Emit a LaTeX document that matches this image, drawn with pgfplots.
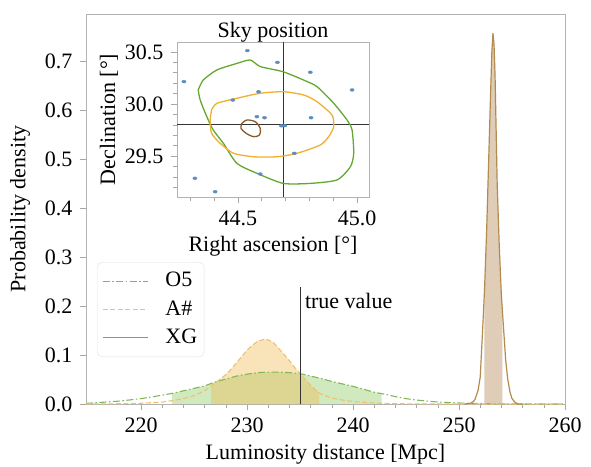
\documentclass[border=0pt]{standalone}
\usepackage{fontspec}
\setmainfont{Liberation Serif}
\usepackage{pgfplots}
\pgfplotsset{compat=1.18}
\usetikzlibrary{calc}
\definecolor{ofiveline}{HTML}{80B858}
\definecolor{ofivefill}{HTML}{8CC860}
\definecolor{ashline}{HTML}{F0C070}
\definecolor{ashfill}{HTML}{F0B850}
\definecolor{xgline}{HTML}{B38B4F}
\definecolor{xgfill}{HTML}{B89060}
\definecolor{cgreen}{HTML}{64A832}
\definecolor{corange}{HTML}{F0B030}
\definecolor{cbrown}{HTML}{8B5A2B}
\definecolor{dotblue}{HTML}{5B8DC0}
\begin{document}
\fontsize{22}{26}\selectfont
\begin{tikzpicture}
\pgfplotsset{every axis/.append style={font=\fontsize{22}{26}\selectfont},
  /pgf/number format/assume math mode=true}
\begin{axis}[name=main, scale only axis, width=479pt, height=390pt,
  xmin=214.8, xmax=260, ymin=0, ymax=0.796,
  xtick={220,230,240,250,260}, minor x tick num=4,
  ytick={0,0.1,0.2,0.3,0.4,0.5,0.6,0.7},
  yticklabel style={/pgf/number format/.cd, fixed, fixed zerofill, precision=1},
  tick pos=left, tick align=outside,
  major tick length=6pt, minor tick length=4pt,
  tick style={gray!70, line width=0.6pt},
  axis line style={gray!60, line width=0.6pt},
  xlabel={Luminosity distance [Mpc]}, ylabel={Probability density},
  xlabel style={yshift=3pt},
  legend style={at={(0.023,0.364)}, anchor=north west, draw=gray!25,
    rounded corners=5pt, fill=white, fill opacity=0.8, text opacity=1,
    inner xsep=5pt, inner ysep=8pt, row sep=6.5pt,
    font=\fontsize{22}{26}\selectfont, cells={anchor=west},
    /tikz/every odd column/.append style={column sep=15pt}},
  legend image code/.code={\draw[#1] (0pt,0pt) -- (45pt,0pt);},
]
% fills
\addplot[draw=none, fill=ofivefill, fill opacity=0.4, forget plot] coordinates {
(222.9,0.0216) (223,0.022) (224,0.027) (225,0.032) (226,0.037) (227,0.045) (228,0.051) (229,0.057) (230,0.061) (231,0.064) (232,0.065) (233,0.065) (234,0.064) (235,0.062) (236,0.057) (237,0.052) (238,0.046) (239,0.041) (240,0.036) (241,0.030) (242,0.024) (242.7,0.021)
} \closedcycle;
\addplot[draw=none, fill=ashfill, fill opacity=0.4, forget plot] coordinates {
(226.6,0.035) (227,0.043) (228,0.060) (228.7,0.076) (229,0.084) (230,0.110) (230.5,0.120) (231,0.128) (231.6,0.132) (232,0.131) (232.5,0.125) (233,0.113) (233.5,0.101) (234,0.088) (234.4,0.077) (235,0.062) (235.5,0.050) (236,0.038) (236.5,0.028) (236.8,0.023)
} \closedcycle;
\addplot[draw=none, fill=xgfill, fill opacity=0.45, forget plot] coordinates {
(252.4,0.23) (252.6,0.35) (252.8,0.50) (253.0,0.65) (253.1,0.72) (253.2,0.757) (253.3,0.735) (253.4,0.67) (253.6,0.45) (253.8,0.32) (254.0,0.22) (254.1,0.19)
} \closedcycle;
% lines
\addplot[ofiveline, line width=1.1pt, dash pattern=on 7pt off 2.5pt on 1.5pt off 2.5pt] coordinates {
(214.8,0.0012) (216,0.003) (218,0.006) (220,0.011) (222,0.018) (223,0.022) (224,0.027) (225,0.032) (226,0.037) (227,0.045) (228,0.051) (229,0.057) (230,0.061) (231,0.064) (232,0.065) (233,0.065) (234,0.064) (235,0.062) (236,0.057) (237,0.052) (238,0.046) (239,0.041) (240,0.036) (241,0.030) (242,0.024) (243,0.020) (244,0.015) (245,0.011) (246,0.008) (247,0.006) (248,0.004) (249,0.003) (250,0.002) (252,0.001) (254,0.0004) (256,0.0001) (260,0)
};
\addlegendentry{O5}
\addplot[ashline, line width=1.1pt, dash pattern=on 5pt off 2.5pt] coordinates {
(214.8,0) (218,0.0005) (220,0.0015) (222,0.004) (223,0.007) (224,0.011) (225,0.017) (226,0.027) (227,0.043) (228,0.060) (228.7,0.076) (229,0.084) (230,0.110) (230.5,0.120) (231,0.128) (231.6,0.132) (232,0.131) (232.5,0.125) (233,0.113) (233.5,0.101) (234,0.088) (234.4,0.077) (235,0.062) (235.5,0.050) (236,0.038) (236.5,0.028) (237,0.020) (238,0.012) (239,0.008) (240,0.005) (242,0.002) (244,0.0006) (246,0.0002) (250,0) (260,0)
};
\addlegendentry{A\#}
\addplot[xgline, line width=1.2pt] coordinates {
(250.5,0) (251.0,0.001) (251.3,0.004) (251.5,0.009) (251.8,0.028) (252.0,0.055) (252.2,0.14) (252.4,0.23) (252.6,0.35) (252.8,0.50) (253.0,0.65) (253.1,0.72) (253.2,0.757) (253.3,0.735) (253.4,0.67) (253.6,0.45) (253.8,0.32) (254.0,0.22) (254.2,0.155) (254.4,0.09) (254.6,0.05) (254.8,0.025) (255.0,0.011) (255.3,0.003) (255.6,0) (256,0)
};
\addlegendentry{XG}
\addplot[black!80, line width=0.8pt, forget plot] coordinates {(235,0) (235,0.239)};
\node[anchor=north west, inner sep=0pt] at (axis cs:235.45,0.226) {true value};
\end{axis}
\begin{axis}[at={($(main.south west)+(91pt,207pt)$)}, anchor=south west,
  scale only axis, width=192pt, height=155pt,
  xmin=44.245, xmax=45.05, ymin=29.106, ymax=30.596,
  xtick={44.5,45.0}, ytick={29.5,30.0,30.5},
  minor xtick={44.3,44.4,44.6,44.7,44.8,44.9},
  minor ytick={29.2,29.3,29.4,29.6,29.7,29.8,29.9,30.1,30.2,30.3,30.4},
  xticklabel style={/pgf/number format/.cd, fixed, fixed zerofill, precision=1},
  yticklabel style={/pgf/number format/.cd, fixed, fixed zerofill, precision=1},
  tick pos=left, tick align=outside,
  major tick length=6pt, minor tick length=3.5pt,
  tick style={gray!70, line width=0.6pt},
  axis line style={gray!60, line width=0.6pt},
  axis background/.style={fill=white},
  title={Sky position}, title style={at={(0.5,1)}, anchor=south, yshift=-8pt, inner sep=2pt},
  xlabel={Right ascension [°]}, ylabel={Declination [°]},
  xlabel style={yshift=4pt}, ylabel shift=-8pt,
]
\addplot[gray!40!black, line width=0.7pt] coordinates {(44.69,29.106) (44.69,30.596)};
\addplot[gray!40!black, line width=0.7pt] coordinates {(44.245,29.8) (45.05,29.8)};
\addplot[cgreen, line width=1.3pt, smooth, tension=0.4] coordinates {
(44.334,30.135) (44.355,30.23) (44.412,30.327) (44.496,30.39) (44.552,30.423) (44.594,30.36) (44.69,30.31) (44.776,30.23) (44.832,30.167) (44.902,30.007) (44.958,29.846) (44.979,29.75) (44.986,29.526) (44.972,29.397) (44.916,29.27) (44.804,29.237) (44.69,29.237) (44.58,29.334) (44.496,29.43) (44.44,29.62) (44.397,29.75) (44.37,29.878) (44.342,30.04) (44.334,30.135)
};
\addplot[corange, line width=1.3pt, smooth, tension=0.4] coordinates {
(44.39,29.942) (44.412,30.006) (44.496,30.055) (44.594,30.103) (44.69,30.118) (44.776,30.087) (44.832,30.022) (44.895,29.894) (44.902,29.782) (44.881,29.686) (44.846,29.606) (44.748,29.526) (44.664,29.493) (44.566,29.493) (44.482,29.526) (44.426,29.622) (44.39,29.718) (44.384,29.846) (44.39,29.942)
};
\addplot[cbrown, line width=1.3pt, smooth, tension=0.5] coordinates {
(44.517,29.814) (44.538,29.846) (44.573,29.83) (44.594,29.766) (44.591,29.702) (44.566,29.686) (44.535,29.718) (44.513,29.766) (44.517,29.814)
};
\addplot[only marks, mark=*, mark size=1.4pt, dotblue, mark options={xscale=1.5, draw=none}] coordinates {
(44.540,30.513) (44.666,30.40) (44.804,30.305) (44.274,30.215) (44.979,30.135) (44.587,30.118) (44.479,30.038) (44.58,29.878) (44.612,29.868) (44.807,29.868) (44.683,29.79) (44.697,29.792) (44.737,29.526) (44.32,29.286) (44.405,29.157) (44.594,29.327)
};
\end{axis}
\pgfresetboundingbox
\path ($(main.south west)+(-86pt,-62pt)$) rectangle ++(591pt,466pt);
\end{tikzpicture}
\end{document}
